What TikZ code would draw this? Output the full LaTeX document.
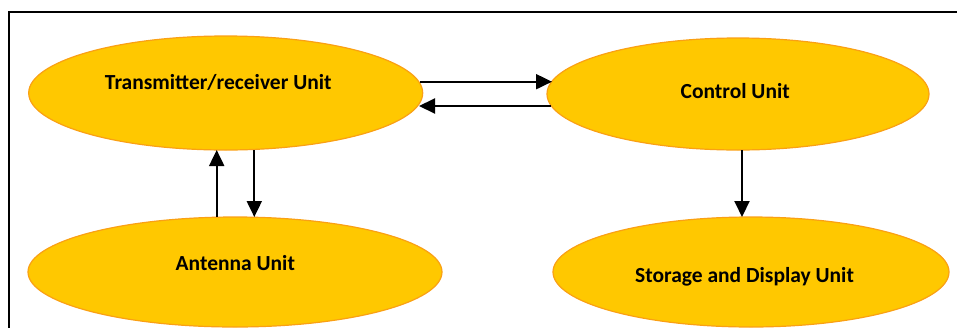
\documentclass[tikz,border=0pt]{standalone}
\usepackage{fontspec}
\setmainfont{Carlito}
\usetikzlibrary{arrows.meta,shapes.geometric}
\definecolor{unitfill}{RGB}{255,200,0}
\definecolor{unitdraw}{RGB}{250,160,20}
\begin{document}
\begin{tikzpicture}[x=1pt,y=-1pt,
  unit/.style={ellipse,draw=unitdraw,fill=unitfill,line width=1.2pt,inner sep=0pt},
  lbl/.style={anchor=base,font=\bfseries\fontsize{21.5}{24}\selectfont},
  arr/.style={line width=2pt,-{Triangle[length=16pt,width=15pt]}},
  frame/.style={line width=1.8pt}]
\useasboundingbox (0,0) rectangle (957,327);
\clip (0,0) rectangle (957,327);
% frame
\coordinate (fb) at (9,330);
\coordinate (fc) at (9,12);
\coordinate (fr) at (960,12);
\draw[frame] (fb) -- (fc) -- (fr);
% units
\node[unit,minimum width=394pt,minimum height=114pt] (tx) at (225.7,93) {};
\node[unit,minimum width=382pt,minimum height=112pt] (cu) at (738,94) {};
\node[unit,minimum width=414pt,minimum height=110pt] (an) at (235,272) {};
\node[unit,minimum width=396pt,minimum height=110pt] (sd) at (751,272) {};
% labels
\node[lbl] (txl) at (218.3,89.3) {Transmitter/receiver Unit};
\node[lbl] (cul) at (735.2,98.3) {Control Unit};
\node[lbl] (anl) at (235.3,270) {Antenna Unit};
\node[lbl] (sdl) at (744.5,282) {Storage and Display Unit};
% connector end points on borders
\coordinate (txr1) at (420,81.7);
\coordinate (cul1) at (552,81.7);
\coordinate (cul2) at (551,106);
\coordinate (txr2) at (419,106);
\coordinate (txb1) at (216.7,150);
\coordinate (ant1) at (216.7,217);
\coordinate (txb2) at (254.3,150);
\coordinate (ant2) at (254.3,217);
\coordinate (cub) at (742,150);
\coordinate (sdt) at (742,217);
% connectors
\draw[arr] (txr1) -- (cul1);
\draw[arr] (cul2) -- (txr2);
\draw[arr] (ant1) -- (txb1);
\draw[arr] (txb2) -- (ant2);
\draw[arr] (cub) -- (sdt);
\end{tikzpicture}
\end{document}
